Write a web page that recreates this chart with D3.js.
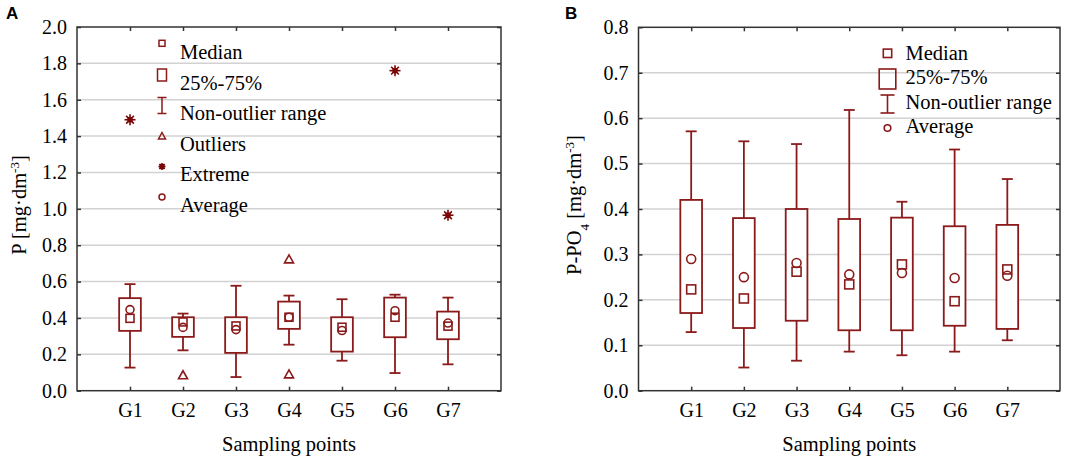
<!DOCTYPE html>
<html><head><meta charset="utf-8">
<script src="https://cdn.jsdelivr.net/npm/d3@7"></script>
<style>
html,body{margin:0;padding:0;background:#fff;}
text{font-family:"Liberation Serif","Times New Roman",serif;fill:#000;}
</style></head>
<body>
<svg id="c" width="1065" height="458"></svg>
<script>
// ---------- DATA ----------
const categories = ["G1","G2","G3","G4","G5","G6","G7"];

// Panel A : P [mg·dm-3]
const aMin    = [0.127, 0.222, 0.075, 0.253, 0.165, 0.097, 0.145];
const aQ1     = [0.329, 0.296, 0.208, 0.340, 0.215, 0.294, 0.283];
const aMedian = [0.398, 0.378, 0.356, 0.404, 0.349, 0.404, 0.355];
const aQ3     = [0.509, 0.404, 0.404, 0.490, 0.404, 0.512, 0.435];
const aMax    = [0.586, 0.424, 0.577, 0.523, 0.503, 0.528, 0.512];
const aMean   = [0.446, 0.348, 0.336, 0.404, 0.331, 0.440, 0.372];
const aOutliers = [["G2",0.085],["G4",0.090],["G4",0.722]];
const aExtremes = [["G1",1.49],["G6",1.76],["G7",0.965]];
const aTicks = [0,0.2,0.4,0.6,0.8,1.0,1.2,1.4,1.6,1.8,2.0];
const aLegend = ["Median","25%-75%","Non-outlier range","Outliers","Extreme","Average"];

// Panel B : P-PO4 [mg·dm-3]
const bMin    = [0.129, 0.051, 0.066, 0.086, 0.078, 0.086, 0.111];
const bQ1     = [0.171, 0.138, 0.154, 0.133, 0.133, 0.143, 0.136];
const bMedian = [0.223, 0.203, 0.262, 0.234, 0.278, 0.197, 0.267];
const bQ3     = [0.420, 0.380, 0.400, 0.378, 0.381, 0.362, 0.365];
const bMax    = [0.571, 0.549, 0.543, 0.618, 0.416, 0.531, 0.466];
const bMean   = [0.290, 0.250, 0.281, 0.256, 0.259, 0.248, 0.253];
const bTicks = [0,0.1,0.2,0.3,0.4,0.5,0.6,0.7,0.8];
const bLegend = ["Median","25%-75%","Non-outlier range","Average"];

// ---------- DRAW ----------
const RED = "#8b1a1a", DARK = "#7a0505";
const svg = d3.select("#c");

function panel(o){
  const g = svg.append("g");
  const x = d3.scalePoint().domain(categories).range([o.left,o.right]).padding(1);
  const y = d3.scaleLinear().domain(o.domain).range([o.bottom,o.top]);
  // grid
  g.selectAll(".grid").data(o.ticks.slice(1,-1)).enter().append("line")
    .attr("x1",o.left).attr("x2",o.right).attr("y1",d=>y(d)).attr("y2",d=>y(d))
    .attr("stroke","#d2d2d2").attr("stroke-width",1.5);
  // axes
  const fmt = d3.format(".1f");
  const ax = [
    g.append("g").attr("transform",`translate(${o.left},0)`).call(d3.axisLeft(y).tickValues(o.ticks).tickFormat(fmt).tickSizeInner(-4).tickSizeOuter(0).tickPadding(10)),
    g.append("g").attr("transform",`translate(${o.right},0)`).call(d3.axisRight(y).tickValues(o.ticks).tickFormat("").tickSizeInner(-4).tickSizeOuter(0)),
    g.append("g").attr("transform",`translate(0,${o.bottom})`).call(d3.axisBottom(x).tickSizeInner(-4).tickSizeOuter(0).tickPadding(12)),
    g.append("g").attr("transform",`translate(0,${o.top})`).call(d3.axisTop(x).tickFormat("").tickSizeInner(-4).tickSizeOuter(0))
  ];
  ax.forEach(a=>{a.select(".domain").remove();a.selectAll("line").attr("stroke","#333").attr("stroke-width",1.5);
    a.selectAll("text").attr("font-size",20).style("font-family","'Liberation Serif',serif").attr("fill","#000");});
  g.append("rect").attr("x",o.left).attr("y",o.top).attr("width",o.right-o.left).attr("height",o.bottom-o.top)
    .attr("fill","none").attr("stroke","#333").attr("stroke-width",1.5);

  const bw = 21.7, cw = 11;
  categories.forEach((c,i)=>{
    const cx = x(c);
    const gg = g.append("g").attr("stroke",RED).attr("stroke-width",1.8).attr("fill","none");
    gg.append("line").attr("x1",cx).attr("x2",cx).attr("y1",y(o.q3[i])).attr("y2",y(o.max[i]));
    gg.append("line").attr("x1",cx).attr("x2",cx).attr("y1",y(o.q1[i])).attr("y2",y(o.min[i]));
    gg.append("line").attr("x1",cx-cw/2).attr("x2",cx+cw/2).attr("y1",y(o.max[i])).attr("y2",y(o.max[i]));
    gg.append("line").attr("x1",cx-cw/2).attr("x2",cx+cw/2).attr("y1",y(o.min[i])).attr("y2",y(o.min[i]));
    gg.append("rect").attr("x",cx-bw/2).attr("width",bw).attr("y",y(o.q3[i])).attr("height",y(o.q1[i])-y(o.q3[i])).attr("fill","#fff");
    const s = o.msize;
    gg.append("rect").attr("x",cx-s/2).attr("y",y(o.median[i])-s/2).attr("width",s).attr("height",s).attr("stroke-width",1.6);
    gg.append("circle").attr("cx",cx).attr("cy",y(o.mean[i])).attr("r",s/2).attr("stroke-width",1.6);
  });
  (o.outliers||[]).forEach(([c,v])=>{
    const cx=x(c), cy=y(v);
    g.append("path").attr("d",`M${cx},${cy-4.5}L${cx+4.5},${cy+3.5}L${cx-4.5},${cy+3.5}Z`)
      .attr("fill","none").attr("stroke",RED).attr("stroke-width",1.6);
  });
  (o.extremes||[]).forEach(([c,v])=>{
    star(g, x(c), y(v), 5.5);
  });
  // legend
  const L = g.append("g");
  o.legend.forEach((t,i)=>{
    L.append("text").attr("x",o.legX+18).attr("y",o.legY+i*o.legDy).attr("font-size",20.5).text(t);
  });
  o.drawLegendMarkers(L, o.legX, o.legY, o.legDy);
  // y title
  const yt = g.append("text").attr("transform",`translate(${o.ytX},${o.ytY}) rotate(-90)`)
    .attr("text-anchor","middle").attr("font-size",o.ytSize);
  o.ytitle(yt);
  g.append("text").attr("x",(o.left+o.right)/2).attr("y",451).attr("text-anchor","middle")
    .attr("font-size",20.5).text("Sampling points");
  g.append("text").attr("x",o.labX).attr("y",19).attr("font-size",17).attr("font-weight","bold")
    .style("font-family","'Liberation Sans',Arial,sans-serif").text(o.label);
}

function star(g,cx,cy,r){
  const s = g.append("g").attr("stroke",DARK).attr("stroke-width",1.6);
  for(let k=0;k<4;k++){
    const a = k*Math.PI/4;
    s.append("line").attr("x1",cx-r*Math.cos(a)).attr("y1",cy-r*Math.sin(a))
      .attr("x2",cx+r*Math.cos(a)).attr("y2",cy+r*Math.sin(a));
  }
  s.append("rect").attr("x",cx-1.8).attr("y",cy-1.8).attr("width",3.6).attr("height",3.6).attr("fill",DARK);
}

panel({
  label:"A", labX:6,
  left:77, right:501, top:27, bottom:390.7, domain:[0,2], ticks:aTicks,
  min:aMin,q1:aQ1,median:aMedian,q3:aQ3,max:aMax,mean:aMean,
  outliers:aOutliers, extremes:aExtremes, msize:8,
  legend:aLegend, legX:162, legY:59, legDy:30.5,
  drawLegendMarkers:(L,lx,ly,dy)=>{
    const m = L.append("g").attr("stroke",RED).attr("fill","none").attr("stroke-width",1.5);
    const c = i=>ly+i*dy-14.5;
    m.append("rect").attr("x",lx-3).attr("y",c(0)-4.2).attr("width",6).attr("height",6);
    m.append("rect").attr("x",lx-4.5).attr("y",c(1)-6).attr("width",9).attr("height",12);
    m.append("line").attr("x1",lx).attr("x2",lx).attr("y1",c(2)-8).attr("y2",c(2)+8);
    m.append("line").attr("x1",lx-4.5).attr("x2",lx+4.5).attr("y1",c(2)-8).attr("y2",c(2)-8);
    m.append("line").attr("x1",lx-4.5).attr("x2",lx+4.5).attr("y1",c(2)+8).attr("y2",c(2)+8);
    m.append("path").attr("d",`M${lx},${c(3)-3.5}L${lx+3.5},${c(3)+3}L${lx-3.5},${c(3)+3}Z`);
    star(L,lx,c(4),3.5);
    m.append("circle").attr("cx",lx).attr("cy",c(5)).attr("r",3);
  },
  ytX:26, ytY:205, ytSize:20.5,
  ytitle:t=>{t.append("tspan").text("P [mg·dm");
    t.append("tspan").attr("baseline-shift","super").attr("font-size",13).text("-3");
    t.append("tspan").text("]");}
});

panel({
  label:"B", labX:565,
  left:638.5, right:1060, top:27.3, bottom:390.7, domain:[0,0.8], ticks:bTicks,
  min:bMin,q1:bQ1,median:bMedian,q3:bQ3,max:bMax,mean:bMean,
  outliers:[], extremes:[], msize:9,
  legend:bLegend, legX:887.5, legY:60, legDy:24.4,
  drawLegendMarkers:(L,lx,ly,dy)=>{
    const m = L.append("g").attr("stroke",RED).attr("fill","none").attr("stroke-width",1.6);
    m.append("rect").attr("x",lx-4.2).attr("y",53.3-4.2).attr("width",8.4).attr("height",8.4);
    m.append("rect").attr("x",lx-8.3).attr("y",69).attr("width",16.6).attr("height",20);
    m.append("line").attr("x1",lx).attr("x2",lx).attr("y1",95).attr("y2",113);
    m.append("line").attr("x1",lx-7).attr("x2",lx+7).attr("y1",95).attr("y2",95);
    m.append("line").attr("x1",lx-7).attr("x2",lx+7).attr("y1",113).attr("y2",113);
    m.append("circle").attr("cx",lx).attr("cy",128).attr("r",3.3);
  },
  ytX:581, ytY:205, ytSize:20.5,
  ytitle:t=>{t.append("tspan").text("P-PO");
    t.append("tspan").attr("baseline-shift","sub").attr("font-size",13).text("4");
    t.append("tspan").text(" [mg·dm");
    t.append("tspan").attr("baseline-shift","super").attr("font-size",13).text("-3");
    t.append("tspan").text("]");}
});
</script>
</body></html>
